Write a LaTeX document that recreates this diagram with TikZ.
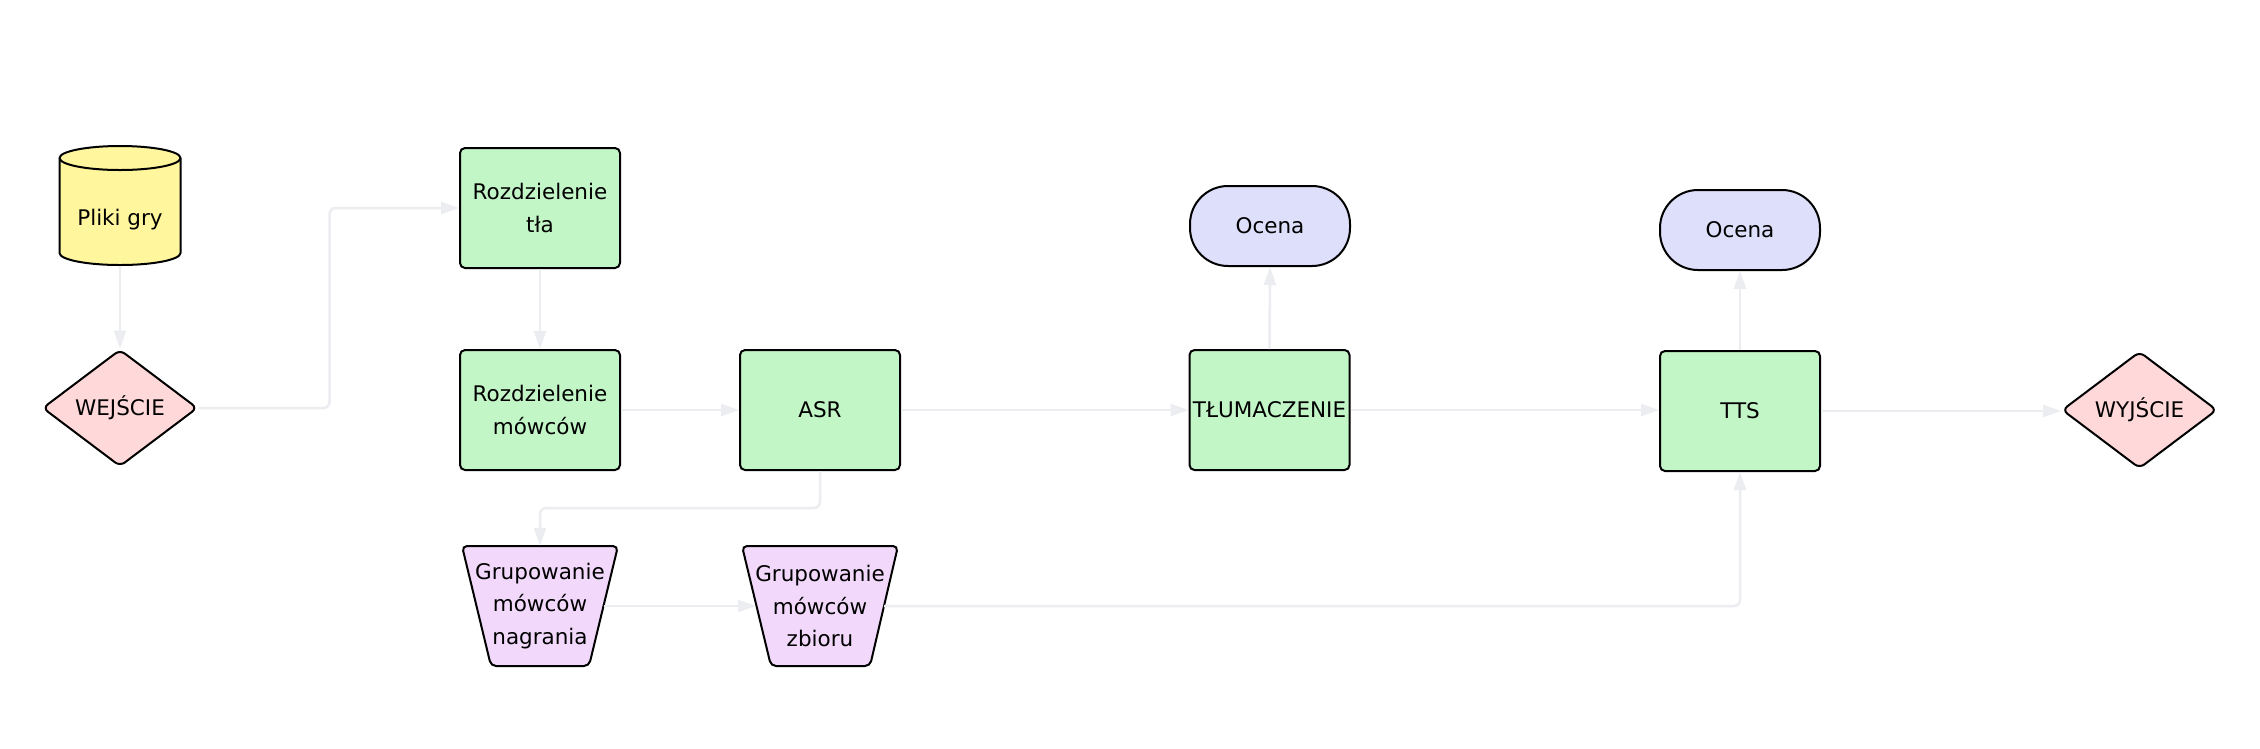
\documentclass[tikz,border=0pt]{standalone}
\usepackage{fontspec}
\setmainfont{DejaVu Sans}
\usetikzlibrary{shapes.geometric,arrows.meta,calc}
\definecolor{edgec}{RGB}{236,237,240}
\definecolor{greenf}{RGB}{195,246,199}
\definecolor{pinkf}{RGB}{255,216,218}
\definecolor{yellowf}{RGB}{255,246,158}
\definecolor{lavf}{RGB}{222,223,250}
\definecolor{purf}{RGB}{242,217,251}
\begin{document}
\begin{tikzpicture}[x=1pt,y=-1pt,
  every node/.style={font=\fontsize{21.5}{32.5}\selectfont, align=center, text=black},
  procbox/.style={draw=black, line width=2pt, fill=greenf, rounded corners=5pt,
    minimum width=160pt, minimum height=120pt, inner sep=0pt},
  termbox/.style={draw=black, line width=2pt, fill=lavf, rounded corners=38pt,
    minimum width=160pt, minimum height=80pt, inner sep=0pt},
  iobox/.style={diamond, aspect=1.3, draw=black, line width=2pt, fill=pinkf,
    rounded corners=6pt, minimum width=155pt, minimum height=117pt, inner sep=0pt},
  trapshape/.style={draw=black, line width=2pt, fill=purf, rounded corners=5pt},
  trapbox/.style={minimum width=156pt, minimum height=120pt, inner sep=0pt},
  dbshape/.style={draw=black, line width=2pt, fill=yellowf},
  flow/.style={draw=edgec, line width=2.5pt, rounded corners=6pt,
    -{Triangle[length=18pt,width=12pt]}}
]
\fill[white] (0,0) rectangle (2260,748);
\useasboundingbox (0,0) rectangle (2260,748);

% database cylinder
\path[dbshape] (59.5,158) -- (59.5,253)
  arc[start angle=180,end angle=0,x radius=60.5,y radius=12] -- (180.5,158)
  arc[start angle=0,end angle=-180,x radius=60.5,y radius=12] -- cycle;
\draw[line width=2pt] (180.5,158) arc[start angle=0,end angle=180,x radius=60.5,y radius=12];
\node[minimum width=121pt, minimum height=120pt, inner sep=0pt] (pliki) at (120,205.5) {};
\node (plikitxt) at (120,220) {Pliki gry};

% diamonds
\node[iobox] (wej) at (120,408) {WEJŚCIE};
\node[iobox] (wyj) at (2139.5,410) {WYJŚCIE};

% process boxes
\node[procbox] (tla) at (540,208) {Rozdzielenie\\tła};
\node[procbox] (mow) at (540,410) {Rozdzielenie\\mówców};
\node[procbox] (asr) at (820,410) {ASR};
\node[procbox] (tlum) at (1269.5,410) {TŁUMACZENIE};
\node[procbox] (tts) at (1740,411) {TTS};

% terminals
\node[termbox] (oc1) at (1270,226) {Ocena};
\node[termbox] (oc2) at (1740,230) {Ocena};

% trapezoids
\path[trapshape] (462,546) -- (618,546) -- (589,666) -- (491,666) -- cycle;
\path[trapshape] (742,546) -- (898,546) -- (870,666) -- (771,666) -- cycle;
\node[trapbox] (nagr) at (540,606) {Grupowanie\\mówców\\nagrania};
\node[trapbox] (zbior) at (820,606) {Grupowanie\\mówców\\zbioru};
\coordinate (nagrR) at (604,606);
\coordinate (zbiorL) at (756,606);
\coordinate (zbiorR) at (884,606);

% connectors
\draw[flow] (pliki.south) -- (wej.north);
\draw[flow] (wej.east) -- ++(131,0) |- (tla.west);
\draw[flow] (tla.south) -- (mow.north);
\draw[flow] (mow.east) -- (asr.west);
\draw[flow] (asr.south) -- ++(0,37) -| (nagr.north);
\draw[flow] (nagrR) -- (zbiorL);
\draw[flow] (zbiorR) -| (tts.south);
\draw[flow] (asr.east) -- (tlum.west);
\draw[flow] (tlum.north) -- (oc1.south);
\draw[flow] (tlum.east) -- (tlum.east -| tts.west);
\draw[flow] (tts.north) -- (oc2.south);
\draw[flow] (tts.east) -- (tts.east -| wyj.west);
\end{tikzpicture}
\end{document}
